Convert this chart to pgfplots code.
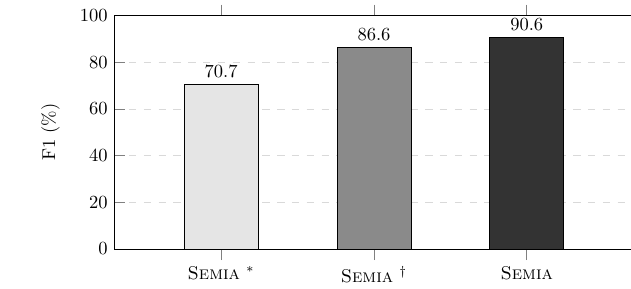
\documentclass[border=0pt]{standalone}
\usepackage{pgfplots}
\pgfplotsset{compat=1.18}
\definecolor{barA}{HTML}{E5E5E5}
\definecolor{barB}{HTML}{8A8A8A}
\definecolor{barC}{HTML}{333333}
\begin{document}
\begin{tikzpicture}
\begin{axis}[
  scale only axis,
  width=279pt, height=126pt,
  ymin=0, ymax=100,
  xmin=-0.7, xmax=2.68,
  axis x line*=box,
  axis y line*=left,
  xtick={0,1,2},
  xticklabels={{\textsc{Semia} $^{*}$},{\textsc{Semia} $^{\dagger}$},{\textsc{Semia}}},
  ytick={0,20,40,60,80,100},
  xtick align=outside,
  ytick align=inside,
  major tick length=6pt,
  tick style={gray, thin},
  ymajorgrids,
  grid style={gray!30, dash pattern=on 4pt off 4pt},
  ylabel={F1 (\%)},
  ylabel shift=4pt,
  nodes near coords,
  nodes near coords style={font=\normalsize, black},
  point meta=explicit symbolic,
  bar width=40pt,
]
\addplot[ybar, fill=barA, draw=black, thin] coordinates {(0,70.7) [70.7]};
\addplot[ybar, fill=barB, draw=black, thin] coordinates {(1,86.6) [86.6]};
\addplot[ybar, fill=barC, draw=black, thin] coordinates {(2,90.6) [90.6]};
\end{axis}
\path (current axis.outer west) ++(-19pt,0);
\path (current axis.north) ++(0,8.5pt);
\end{tikzpicture}
\end{document}
